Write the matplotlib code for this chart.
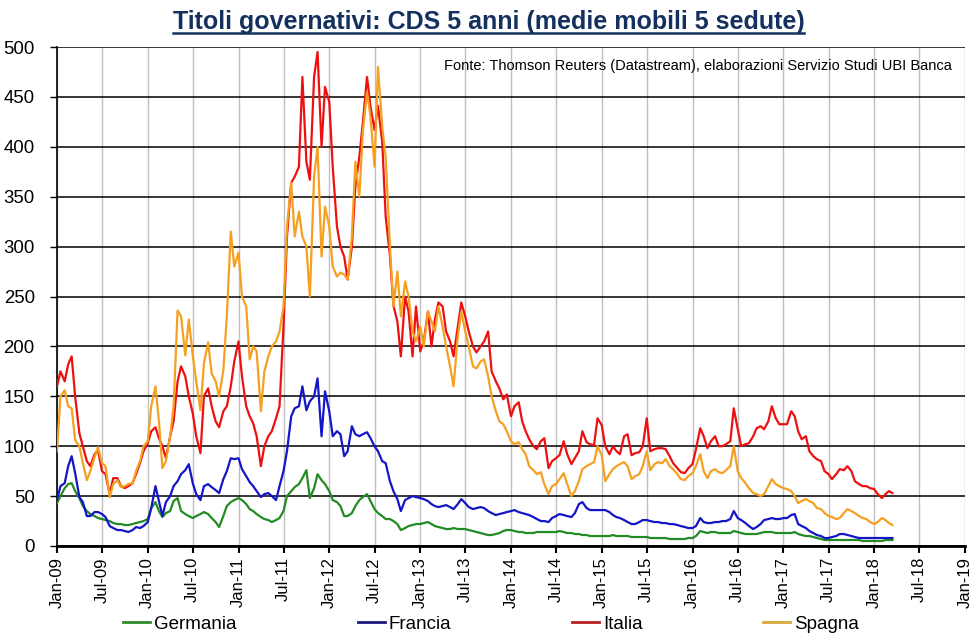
import numpy as np
import pandas as pd
import matplotlib
matplotlib.use('Agg')
import matplotlib.pyplot as plt
import matplotlib.dates as mdates
from matplotlib.lines import Line2D

plt.rcParams['font.family'] = ['Liberation Sans', 'DejaVu Sans']

# valori CDS 5 anni (punti base), letture quindicinali (1 e 15 del mese) da gen-09 a mar-18
germania = [
    43, 50, 58, 62, 63, 55, 48, 40, 35, 32, 30, 28, 27, 26, 25, 23, 22, 22, 21, 21, 22, 23, 24, 25,
    27, 38, 44, 35, 29, 33, 35, 45, 48, 35, 32, 30, 28, 30, 32, 34, 32, 28, 24, 19, 30, 40, 44, 46,
    48, 46, 42, 37, 35, 32, 29, 27, 26, 24, 26, 28, 35, 50, 55, 59, 62, 68, 76, 48, 58, 72, 66, 62,
    55, 46, 44, 40, 30, 30, 33, 40, 46, 49, 52, 45, 37, 33, 30, 27, 27, 25, 22, 16, 18, 20, 21, 22,
    22, 23, 24, 22, 20, 19, 18, 17, 17, 18, 17, 17, 17, 16, 15, 14, 13, 12, 11, 11, 12, 13, 15, 16,
    16, 15, 14, 14, 13, 13, 13, 14, 14, 14, 14, 14, 14, 15, 14, 13, 13, 12, 12, 11, 11, 10, 10, 10,
    10, 10, 10, 11, 10, 10, 10, 10, 9, 9, 9, 9, 9, 8, 8, 8, 8, 8, 7, 7, 7, 7, 7, 8,
    8, 10, 15, 14, 13, 14, 14, 13, 13, 13, 13, 15, 14, 13, 12, 12, 12, 12, 13, 14, 14, 14, 13, 13,
    13, 13, 13, 14, 12, 11, 10, 10, 9, 8, 7, 6, 6, 6, 6, 6, 6, 6, 6, 6, 6, 5, 5, 5,
    5, 5, 5, 6, 6, 6,
]
francia = [
    46, 60, 63, 80, 90, 73, 49, 44, 30, 30, 34, 34, 32, 29, 20, 18, 16, 16, 15, 14, 16, 19, 18, 20,
    24, 38, 60, 45, 30, 44, 50, 60, 65, 72, 76, 82, 63, 52, 46, 60, 62, 59, 56, 53, 67, 75, 88, 87,
    88, 77, 70, 64, 60, 55, 49, 52, 53, 50, 46, 60, 75, 95, 130, 138, 140, 160, 136, 145, 150, 168, 110, 155,
    135, 110, 115, 112, 90, 95, 120, 112, 110, 112, 114, 108, 100, 95, 85, 83, 65, 55, 47, 35, 46, 48, 50, 49,
    48, 47, 45, 42, 40, 39, 40, 41, 39, 37, 42, 47, 43, 39, 37, 38, 39, 38, 35, 33, 31, 32, 33, 34,
    35, 36, 34, 33, 32, 31, 29, 27, 25, 25, 24, 28, 30, 32, 31, 30, 29, 33, 42, 44, 38, 36, 36, 36,
    36, 36, 34, 31, 29, 28, 26, 24, 22, 22, 24, 26, 26, 25, 24, 24, 23, 23, 22, 22, 21, 20, 19, 18,
    18, 20, 28, 24, 23, 23, 24, 24, 25, 25, 27, 35, 28, 26, 23, 20, 17, 19, 22, 26, 27, 28, 27, 27,
    28, 28, 31, 32, 22, 20, 18, 15, 13, 11, 10, 8, 8, 9, 10, 12, 12, 11, 10, 9, 8, 8, 8, 8,
    8, 8, 8, 8, 8, 8,
]
italia = [
    160, 175, 165, 182, 190, 150, 113, 100, 85, 80, 92, 96, 75, 72, 52, 68, 68, 60, 58, 60, 63, 72, 83, 95,
    103, 115, 119, 108, 100, 88, 110, 125, 165, 180, 170, 150, 133, 110, 93, 150, 158, 140, 125, 119, 135, 140, 160, 185,
    205, 170, 140, 130, 123, 110, 80, 100, 110, 115, 128, 140, 220, 310, 364, 370, 380, 470, 385, 367, 470, 495, 400, 460,
    445, 380, 320, 300, 290, 267, 300, 360, 390, 424, 470, 440, 417, 441, 405, 330, 291, 241, 225, 190, 250, 235, 190, 240,
    195, 205, 235, 200, 227, 244, 240, 215, 205, 190, 220, 244, 230, 215, 200, 194, 200, 205, 215, 175, 165, 158, 147, 152,
    130, 140, 144, 125, 115, 107, 100, 97, 105, 108, 78, 85, 88, 91, 105, 92, 82, 88, 95, 115, 104, 102, 101, 128,
    121, 100, 92, 100, 95, 92, 110, 112, 91, 93, 94, 100, 128, 95, 97, 98, 98, 97, 90, 83, 78, 74, 73, 78,
    82, 97, 118, 110, 98, 105, 110, 100, 100, 102, 105, 138, 117, 100, 102, 103, 110, 118, 120, 117, 125, 140, 128, 122,
    122, 122, 135, 130, 115, 107, 110, 95, 90, 87, 85, 75, 72, 67, 72, 77, 76, 80, 75, 65, 62, 60, 60, 58,
    57, 52, 48, 52, 55, 53,
]
spagna = [
    95, 150, 156, 140, 138, 106, 100, 83, 66, 75, 89, 99, 83, 80, 49, 62, 66, 59, 60, 62, 63, 75, 85, 100,
    105, 140, 160, 125, 78, 85, 110, 140, 236, 230, 191, 227, 191, 165, 136, 183, 204, 173, 165, 150, 176, 230, 315, 280,
    294, 250, 240, 187, 200, 195, 135, 175, 190, 200, 205, 215, 240, 320, 364, 310, 335, 310, 300, 250, 370, 400, 290, 340,
    320, 280, 270, 274, 272, 267, 310, 385, 350, 415, 455, 430, 380, 480, 420, 390, 300, 240, 275, 230, 265, 250, 215, 205,
    220, 200, 235, 225, 215, 240, 220, 200, 180, 160, 210, 235, 215, 200, 180, 178, 185, 187, 170, 150, 135, 125, 122, 115,
    105, 102, 104, 97, 92, 80, 76, 72, 74, 62, 52, 60, 62, 67, 73, 62, 50, 55, 65, 77, 80, 82, 84, 100,
    91, 65, 72, 77, 80, 82, 84, 80, 67, 70, 72, 80, 95, 76, 82, 84, 83, 87, 80, 77, 72, 67, 66, 70,
    73, 80, 92, 75, 68, 75, 77, 74, 73, 76, 80, 100, 75, 68, 63, 58, 53, 52, 50, 52, 60, 67, 62, 60,
    58, 57, 55, 50, 43, 45, 47, 45, 43, 38, 37, 33, 30, 29, 27, 28, 33, 37, 35, 33, 30, 28, 27, 24,
    22, 24, 28, 26, 23, 21,
]
paesi = ['Germania', 'Francia', 'Italia', 'Spagna']
colori = ['#238B23', '#1515C8', '#EE1010', '#F5A020']
colori_legenda = ['#2E8B2E', '#1A1A80', '#B82020', '#D4A93A']

date = pd.date_range('2009-01-01', periods=len(italia), freq='SMS')

fig = plt.figure(figsize=(9.77, 6.38), dpi=100)
ax = fig.add_axes([57 / 977, 1 - 546 / 638, (965 - 57) / 977, (546 - 47) / 638])

for serie, col in zip([germania, francia, italia, spagna], colori):
    ax.plot(date, serie, color=col, lw=1.6, zorder=3)

ax.set_ylim(0, 500)
ax.set_yticks(np.arange(0, 501, 50))
ax.set_xlim(pd.Timestamp('2009-01-01'), pd.Timestamp('2019-01-01'))
ax.xaxis.set_major_locator(mdates.MonthLocator(bymonth=[1, 7]))
ax.xaxis.set_major_formatter(mdates.DateFormatter('%b-%y'))
plt.setp(ax.get_xticklabels(), rotation=90)

ax.tick_params(axis='y', labelsize=13.4, length=5, width=1, direction='out', pad=11)
ax.tick_params(axis='x', labelsize=12, length=5, width=1.5, direction='out', pad=3)

ax.grid(axis='y', color='black', lw=1.1, zorder=1)
ax.grid(axis='x', color='#C0C0C0', lw=1.0, zorder=1)
ax.set_axisbelow(True)
for s in ['top', 'right']:
    ax.spines[s].set_visible(False)
ax.spines['left'].set_linewidth(1.2)
ax.spines['bottom'].set_linewidth(2)

ax.text(0.985, 0.975, 'Fonte: Thomson Reuters (Datastream), elaborazioni Servizio Studi UBI Banca',
        transform=ax.transAxes, ha='right', va='top', fontsize=10.5)

titolo = fig.text(0.5, 1 - 22 / 638, 'Titoli governativi: CDS 5 anni (medie mobili 5 sedute)',
                  ha='center', va='center', fontsize=18, fontweight='bold', color='#14305E')

# legenda sotto il grafico, una voce per posizione
pos_x = [123, 358, 572, 763]
for nome, col, px in zip(paesi, colori_legenda, pos_x):
    h = Line2D([], [], color=col, lw=2)
    fig.legend([h], [nome], loc='center left', bbox_to_anchor=(px / 977, 1 - 624 / 638),
               frameon=False, fontsize=13.5, handlelength=1.45, handletextpad=0.2,
               borderpad=0, borderaxespad=0)

# sottolineatura del titolo
fig.canvas.draw()
bb = titolo.get_window_extent()
y_line = (bb.y0 + 1) / fig.bbox.height
fig.add_artist(Line2D([bb.x0 / fig.bbox.width, bb.x1 / fig.bbox.width], [y_line, y_line],
                      color='#14305E', lw=1.8, transform=fig.transFigure))

fig.savefig('out.png', dpi=100)
